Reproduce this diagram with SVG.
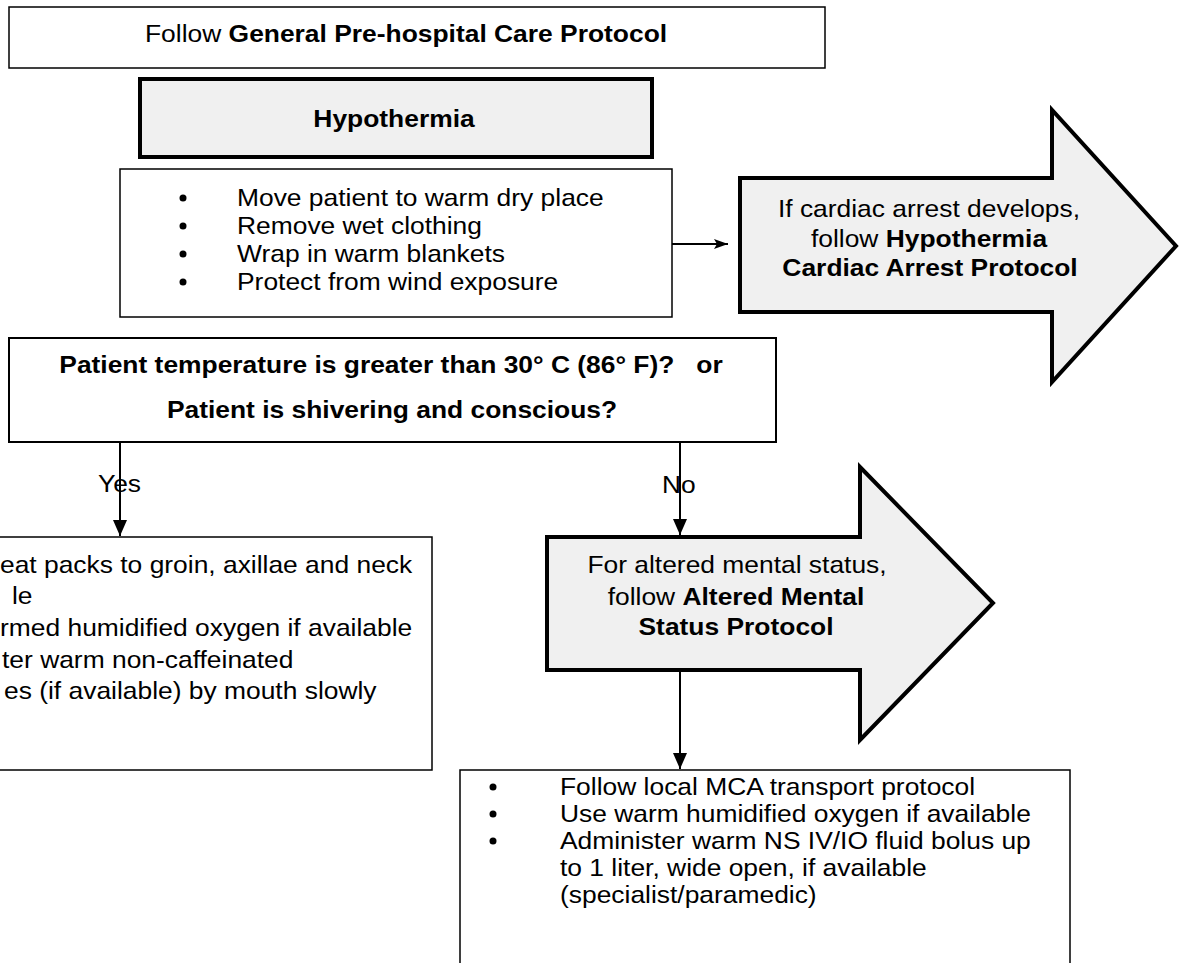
<svg xmlns="http://www.w3.org/2000/svg" width="1180" height="963" viewBox="0 0 1180 963">
<style>
.t{font-family:"Liberation Sans",Arial,sans-serif;font-size:24px;fill:#000}
.b{font-weight:bold}
.box{fill:#fff;stroke:#000;stroke-width:1.5}
.gray{fill:#f0f0f0;stroke:#000;stroke-width:4}
.line{stroke:#000;stroke-width:2;fill:none}
.dot{fill:#000}
</style>
<defs>
<marker id="ah" markerUnits="userSpaceOnUse" viewBox="0 0 16 16" markerWidth="16" markerHeight="16" refX="16" refY="8" orient="auto"><path d="M0,1 L16,8 L0,15 z" fill="#000"/></marker>
<marker id="ahs" markerUnits="userSpaceOnUse" viewBox="0 0 14 12" markerWidth="14" markerHeight="12" refX="14" refY="6" orient="auto"><path d="M0,1 L14,6 L0,11 L3,6 z" fill="#000"/></marker>
</defs>

<g id="top">
<rect class="box" x="9" y="7" width="816" height="61"/>
<text class="t" transform="matrix(1.1 0 0 1 145 42)">Follow <tspan class="b">General Pre-hospital Care Protocol</tspan></text>
</g>

<g id="hypothermia">
<rect class="gray" x="140" y="79" width="512" height="78"/>
<text class="t b" text-anchor="middle" transform="matrix(1.1 0 0 1 394 127)">Hypothermia</text>
</g>

<g id="initial-care">
<rect class="box" x="120" y="169" width="552" height="148"/>
<circle class="dot" cx="183" cy="198" r="3.5"/>
<circle class="dot" cx="183" cy="226" r="3.5"/>
<circle class="dot" cx="183" cy="254" r="3.5"/>
<circle class="dot" cx="183" cy="282" r="3.5"/>
<text class="t" transform="matrix(1.1 0 0 1 237 206)">Move patient to warm dry place</text>
<text class="t" transform="matrix(1.1 0 0 1 237 234)">Remove wet clothing</text>
<text class="t" transform="matrix(1.1 0 0 1 237 262)">Wrap in warm blankets</text>
<text class="t" transform="matrix(1.1 0 0 1 237 290)">Protect from wind exposure</text>
</g>

<g id="cardiac-arrest">
<polygon class="gray" points="740,178 1052,178 1052,110 1176,246 1052,382 1052,312 740,312"/>
<text class="t" text-anchor="middle" transform="matrix(1.1 0 0 1 929 217)">If cardiac arrest develops,</text>
<text class="t" text-anchor="middle" transform="matrix(1.1 0 0 1 929 247)">follow <tspan class="b">Hypothermia</tspan></text>
<text class="t b" text-anchor="middle" transform="matrix(1.1 0 0 1 930 276)">Cardiac Arrest Protocol</text>
</g>

<g id="decision">
<rect x="9" y="338" width="767" height="104" fill="#fff" stroke="#000" stroke-width="2"/>
<text class="t b" text-anchor="middle" xml:space="preserve" transform="matrix(1.1 0 0 1 391 373)">Patient temperature is greater than 30° C (86° F)?   or</text>
<text class="t b" text-anchor="middle" transform="matrix(1.1 0 0 1 392 418)">Patient is shivering and conscious?</text>
</g>

<g id="yes-care">
<rect class="box" x="-10" y="537" width="442" height="233" stroke-width="1.2"/>
<text class="t" transform="matrix(1.1 0 0 1 0 573)">eat packs to groin, axillae and neck</text>
<text class="t" transform="matrix(1.1 0 0 1 12 604)">le</text>
<text class="t" transform="matrix(1.1 0 0 1 0 636)">rmed humidified oxygen if available</text>
<text class="t" transform="matrix(1.1 0 0 1 2 668)">ter warm non-caffeinated</text>
<text class="t" transform="matrix(1.1 0 0 1 4 699)">es (if available) by mouth slowly</text>
</g>

<g id="altered-mental-status">
<polygon class="gray" points="547,537 860,537 860,467 993,603 860,740 860,670 547,670"/>
<text class="t" text-anchor="middle" transform="matrix(1.1 0 0 1 737 573)">For altered mental status,</text>
<text class="t" text-anchor="middle" transform="matrix(1.1 0 0 1 736 605)">follow <tspan class="b">Altered Mental</tspan></text>
<text class="t b" text-anchor="middle" transform="matrix(1.1 0 0 1 736 635)">Status Protocol</text>
</g>

<g id="transport">
<rect class="box" x="460" y="770" width="610" height="210"/>
<circle class="dot" cx="493" cy="787" r="3.5"/>
<circle class="dot" cx="493" cy="814" r="3.5"/>
<circle class="dot" cx="493" cy="841" r="3.5"/>
<text class="t" transform="matrix(1.1 0 0 1 560 795)">Follow local MCA transport protocol</text>
<text class="t" transform="matrix(1.1 0 0 1 560 822)">Use warm humidified oxygen if available</text>
<text class="t" transform="matrix(1.1 0 0 1 560 849)">Administer warm NS IV/IO fluid bolus up</text>
<text class="t" transform="matrix(1.1 0 0 1 560 876)">to 1 liter, wide open, if available</text>
<text class="t" transform="matrix(1.1 0 0 1 560 903)">(specialist/paramedic)</text>
</g>

<g id="connectors">
<line class="line" x1="672" y1="244" x2="728" y2="244" stroke-width="1.5" marker-end="url(#ahs)"/>
<line class="line" x1="120" y1="442" x2="120" y2="536" marker-end="url(#ah)"/>
<line class="line" x1="680" y1="442" x2="680" y2="535" marker-end="url(#ah)"/>
<line class="line" x1="680" y1="672" x2="680" y2="769" marker-end="url(#ah)"/>
<text class="t" transform="matrix(1.1 0 0 1 98 492)">Yes</text>
<text class="t" transform="matrix(1.1 0 0 1 662 493)">No</text>
</g>
</svg>
